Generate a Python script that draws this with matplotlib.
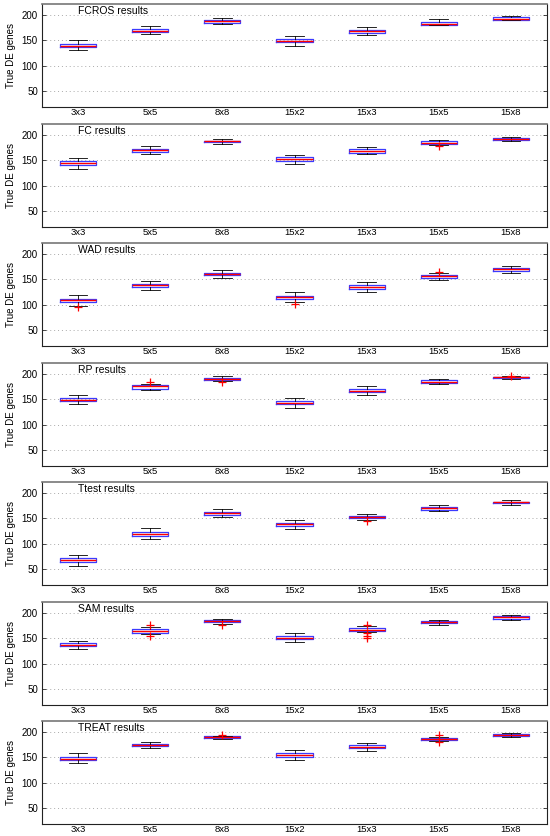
import numpy as np
import matplotlib
matplotlib.use("Agg")
import matplotlib.pyplot as plt

plt.rcParams['font.family'] = ['Liberation Sans', 'DejaVu Sans']

designs = ['3x3', '5x5', '8x8', '15x2', '15x3', '15x5', '15x8']
methods = ['FCROS', 'FC', 'WAD', 'RP', 'Ttest', 'SAM', 'TREAT']

# per design: (whisker low, q1, median, q3, whisker high)
fcros = [(131, 137, 139, 143, 150), (162, 166, 169, 172, 178), (183, 185, 188, 191, 194),
         (139, 146, 149, 153, 159), (160, 165, 168, 171, 176), (180, 181, 183, 187, 192),
         (190, 191, 193, 196, 198)]
fc = [(133, 141, 144, 148, 154), (162, 167, 171, 173, 179), (183, 186, 188, 189, 192),
      (143, 149, 152, 156, 161), (162, 165, 168, 172, 176), (181, 182, 185, 188, 190),
      (189, 191, 193, 195, 196)]
wad = [(98, 105, 109, 112, 120), (129, 134, 138, 140, 146), (153, 158, 161, 163, 168),
       (106, 112, 116, 118, 124), (125, 131, 134, 138, 144), (148, 153, 156, 158, 162),
       (163, 167, 170, 173, 177)]
rp = [(140, 146, 149, 152, 158), (168, 171, 176, 179, 181), (187, 188, 191, 192, 196),
      (133, 140, 143, 147, 152), (158, 164, 167, 171, 177), (180, 183, 185, 188, 190),
      (191, 193, 194, 195, 197)]
ttest = [(56, 64, 67, 71, 77), (109, 116, 119, 123, 131), (153, 157, 160, 162, 168),
         (128, 134, 138, 140, 147), (147, 151, 153, 155, 159), (164, 167, 170, 173, 177),
         (177, 180, 182, 183, 186)]
sam = [(129, 134, 137, 141, 145), (159, 161, 165, 168, 173), (179, 183, 185, 187, 188),
       (143, 148, 151, 154, 160), (162, 165, 167, 170, 174), (177, 181, 183, 184, 187),
       (186, 189, 192, 194, 196)]
treat = [(138, 144, 147, 150, 158), (168, 172, 175, 177, 181), (186, 189, 190, 192, 192),
         (144, 151, 155, 158, 164), (162, 168, 171, 175, 179), (182, 184, 186, 189, 191),
         (191, 192, 194, 196, 199)]

# outliers: method -> {design index: values}
fcros_out = {}
fc_out = {5: [178]}
wad_out = {0: [95], 3: [102], 5: [165]}
rp_out = {1: [184], 2: [184], 6: [197]}
ttest_out = {4: [144]}
sam_out = {1: [176, 155], 2: [177], 4: [176, 160, 155, 151]}
treat_out = {2: [195], 5: [194, 180]}

all_stats = [fcros, fc, wad, rp, ttest, sam, treat]
all_out = [fcros_out, fc_out, wad_out, rp_out, ttest_out, sam_out, treat_out]

fig = plt.figure(figsize=(5.5, 8.36), dpi=100)
W, H = 550., 836.
tops = [4, 124, 243, 363, 482, 602, 721]
ax_h = 103

for k in range(7):
    ax = fig.add_axes([42/W, 1 - (tops[k] + ax_h)/H, 505/W, ax_h/H])
    stats = []
    for i, (lo, q1, med, q3, hi) in enumerate(all_stats[k]):
        stats.append(dict(whislo=lo, q1=q1, med=med, q3=q3, whishi=hi,
                          fliers=all_out[k].get(i, [])))
    ax.bxp(stats, positions=np.arange(1, 8), widths=0.5, showfliers=True,
           boxprops=dict(color='#3b3bff', linewidth=0.9),
           medianprops=dict(color='red', linewidth=1.0),
           whiskerprops=dict(color='black', linewidth=0.6),
           capprops=dict(color='black', linewidth=0.6),
           capwidths=0.26,
           flierprops=dict(marker='+', markeredgecolor='red', markersize=6,
                           linestyle='none', markeredgewidth=0.9))
    ax.set_xlim(0.5, 7.5)
    ax.set_ylim(18, 222)
    ax.set_yticks([50, 100, 150, 200])
    ax.set_xticks(np.arange(1, 8))
    ax.set_xticklabels(designs)
    ax.yaxis.grid(True, linestyle=(0, (1, 3)), color='#aaaaaa', linewidth=0.7)
    ax.set_axisbelow(True)
    ax.tick_params(axis='y', labelsize=7, direction='in', length=3, width=0.5,
                   right=True, pad=3)
    ax.tick_params(axis='x', labelsize=6.8, length=0, pad=0.5)
    for s in ax.spines.values():
        s.set_linewidth(0.8)
        s.set_color('#222222')
    ax.spines['top'].set_color('#777777')
    ax.spines['top'].set_linewidth(1.2)
    ax.set_ylabel('True DE genes', fontsize=7, labelpad=4)
    ax.text(0.071, 0.93, methods[k] + ' results', transform=ax.transAxes,
            fontsize=7.5, ha='left', va='center')

fig.savefig('out.png', dpi=100)
